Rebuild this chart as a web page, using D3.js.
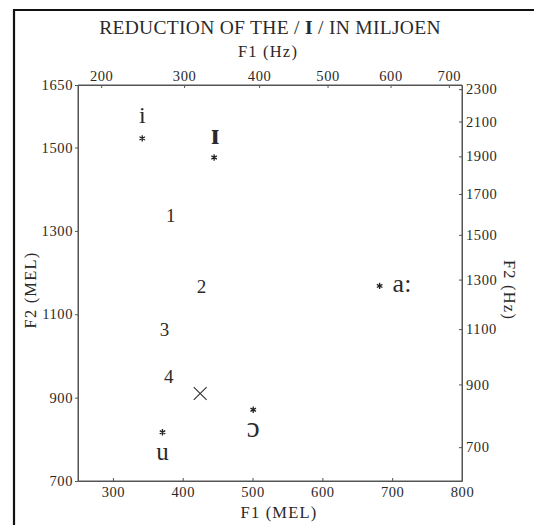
<!DOCTYPE html>
<html><head><meta charset="utf-8">
<script src="https://cdn.jsdelivr.net/npm/d3@7"></script>
<style>
html,body{margin:0;padding:0;background:#fff;}
svg text{font-family:"Liberation Serif","DejaVu Serif",serif;fill:#2a2a2a;}
</style></head>
<body><svg id="c" width="534" height="525"></svg>
<script>
// ---- data ----
const vowels = ["i", "ɪ", "a:", "ɔ", "u"];
const vowelF1 = [342, 445, 682, 501, 371];   // MEL
const vowelF2 = [1522, 1476, 1168, 871, 817]; // MEL
const stages = ["1", "2", "3", "4"];
const stageF1 = [383, 427, 374, 380];
const stageF2 = [1338, 1167, 1063, 951];
const meanF1 = [425];
const meanF2 = [910];
const melTicksX = [300, 400, 500, 600, 700, 800];
const melTicksY = [700, 900, 1100, 1300, 1500, 1650];
const hzTicksX = [200, 300, 400, 500, 600, 700];
const hzTicksY = [700, 900, 1100, 1300, 1500, 1700, 1900, 2100, 2300];

// label placement (style)
const vowelDx = [0, 1, 13, 0, 0];
const vowelDy = [-15, -14, 6, 27, 28];
const vowelAnchor = ["middle", "middle", "start", "middle", "middle"];
const vowelSize = [24, 29, 26, 29, 25];
const vowelWeight = ["normal", "bold", "normal", "normal", "normal"];

const mel = f => 2595 * Math.log10(1 + f / 700);

const svg = d3.select("#c");
const L = 78, R = 462, T = 85, B = 481;
const x = d3.scaleLinear().domain([250, 800]).range([L, R]);
const y = d3.scaleLinear().domain([700, 1650]).range([B, T]);

// outer frame (top and left)
svg.append("path").attr("d", `M14,525 L14,10 L534,10`).attr("fill", "none")
  .attr("stroke", "#111").attr("stroke-width", 2.2);

// title
const t = svg.append("text").attr("x", 270).attr("y", 34).attr("text-anchor", "middle")
  .attr("font-size", 19.5).attr("letter-spacing", 0.3);
t.append("tspan").text("REDUCTION OF THE / ");
t.append("tspan").attr("font-weight", "bold").text("I");
t.append("tspan").text(" / IN MILJOEN");

const labStyle = s => s.attr("text-anchor", "middle").attr("font-size", 16.5).attr("letter-spacing", 1.2);
svg.append("text").attr("x", 268).attr("y", 57).call(labStyle).text("F1  (Hz)");
svg.append("text").attr("x", 279).attr("y", 518).call(labStyle).text("F1  (MEL)");
svg.append("text").attr("transform", "translate(36,290) rotate(-90)").call(labStyle).text("F2  (MEL)");
svg.append("text").attr("transform", "translate(504,290) rotate(90)").call(labStyle).text("F2  (Hz)");

function styleAxis(g) {
  g.selectAll("path").attr("stroke", "#555").attr("stroke-width", 1);
  g.selectAll("line").attr("stroke", "#555");
  g.selectAll("text").attr("font-family", '"Liberation Serif","DejaVu Serif",serif')
    .attr("font-size", 14.5).attr("letter-spacing", 0.6).attr("fill", "#2a2a2a");
}

svg.append("g").attr("transform", `translate(0,${B})`)
  .call(d3.axisBottom(x).tickValues(melTicksX).tickFormat(d3.format("d"))
    .tickSizeInner(-3).tickSizeOuter(0).tickPadding(6)).call(styleAxis);
svg.append("g").attr("transform", `translate(${L},0)`)
  .call(d3.axisLeft(y).tickValues(melTicksY).tickFormat(d3.format("d"))
    .tickSizeInner(3).tickSizeOuter(0).tickPadding(2)).call(styleAxis);
svg.append("g").attr("transform", `translate(0,${T})`)
  .call(d3.axisTop(x).tickValues(hzTicksX.map(mel)).tickFormat((d, i) => hzTicksX[i])
    .tickSizeInner(-3).tickSizeOuter(0).tickPadding(4)).call(styleAxis);
svg.append("g").attr("transform", `translate(${R},0)`)
  .call(d3.axisRight(y).tickValues(hzTicksY.map(mel)).tickFormat((d, i) => hzTicksY[i])
    .tickSizeInner(-3).tickSizeOuter(0).tickPadding(4)).call(styleAxis);
// close the frame lines
svg.append("path").attr("d", `M${L},${T}H${R}V${B}H${L}Z`).attr("fill", "none")
  .attr("stroke", "#555").attr("stroke-width", 1);

// asterisks
const star = d3.symbol().type(d3.symbolAsterisk).size(28);
svg.append("g").selectAll("path").data(vowels).join("path")
  .attr("transform", (d, i) => `translate(${x(vowelF1[i])},${y(vowelF2[i])})`)
  .attr("d", star).attr("fill", "none").attr("stroke", "#222").attr("stroke-width", 1.3);

// vowel labels
svg.append("g").selectAll("text").data(vowels).join("text")
  .attr("x", (d, i) => x(vowelF1[i]) + vowelDx[i])
  .attr("y", (d, i) => y(vowelF2[i]) + vowelDy[i])
  .attr("text-anchor", (d, i) => vowelAnchor[i])
  .attr("font-size", (d, i) => vowelSize[i]).attr("font-weight", (d, i) => vowelWeight[i])
  .attr("fill", "#222").text(d => d);

// stage numbers
svg.append("g").selectAll("text").data(stages).join("text")
  .attr("x", (d, i) => x(stageF1[i])).attr("y", (d, i) => y(stageF2[i]))
  .attr("dy", "0.35em").attr("text-anchor", "middle").attr("font-size", 19).text(d => d);

// mean cross
svg.append("g").selectAll("path").data(meanF1).join("path")
  .attr("transform", (d, i) => `translate(${x(meanF1[i])},${y(meanF2[i])})`)
  .attr("d", d3.symbol().type(d3.symbolTimes).size(110)).attr("fill", "none")
  .attr("stroke", "#333").attr("stroke-width", 1.1);
</script></body></html>
